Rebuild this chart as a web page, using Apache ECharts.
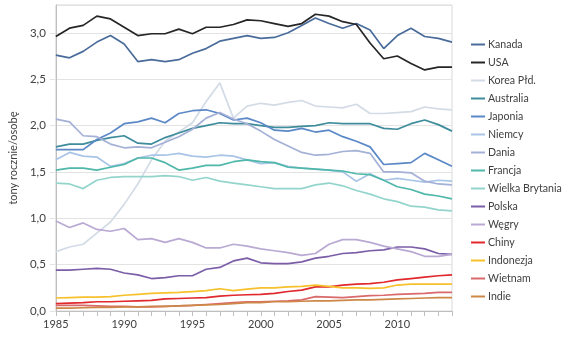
<!DOCTYPE html>
<html>
<head>
<meta charset="utf-8">
<script src="https://cdn.jsdelivr.net/npm/echarts@6/dist/echarts.min.js"></script>
<style>html,body{margin:0;padding:0;background:#fff}#c{width:570px;height:340px}</style>
</head>
<body>
<div id="c"></div>
<script>
const years = ['1985','1986','1987','1988','1989','1990','1991','1992','1993','1994','1995','1996','1997','1998','1999','2000','2001','2002','2003','2004','2005','2006','2007','2008','2009','2010','2011','2012','2013','2014'];
const seriesNames = ['Kanada','USA','Korea Płd.','Australia','Japonia','Niemcy','Dania','Francja','Wielka Brytania','Polska','Węgry','Chiny','Indonezja','Wietnam','Indie'];
const kanada = [2.76,2.73,2.80,2.90,2.97,2.88,2.69,2.71,2.69,2.71,2.78,2.83,2.91,2.94,2.97,2.94,2.95,3.00,3.08,3.16,3.10,3.05,3.10,3.03,2.83,2.97,3.05,2.96,2.94,2.90];
const usa = [2.96,3.05,3.08,3.18,3.15,3.06,2.97,2.99,2.99,3.04,2.99,3.06,3.06,3.09,3.14,3.13,3.10,3.07,3.10,3.20,3.18,3.12,3.09,2.89,2.72,2.75,2.67,2.60,2.63,2.63];
const korea = [0.64,0.69,0.72,0.84,0.96,1.15,1.37,1.63,1.83,1.93,2.03,2.26,2.46,2.08,2.21,2.24,2.22,2.25,2.27,2.21,2.20,2.19,2.23,2.13,2.13,2.14,2.15,2.20,2.18,2.17];
const australia = [1.77,1.80,1.80,1.84,1.87,1.89,1.81,1.80,1.87,1.92,1.97,2.00,2.03,2.02,2.02,2.00,1.98,1.98,1.99,2.00,2.03,2.02,2.02,2.02,1.97,1.96,2.02,2.06,2.01,1.94];
const japonia = [1.74,1.74,1.74,1.85,1.92,2.02,2.04,2.08,2.03,2.13,2.16,2.17,2.13,2.06,2.08,2.03,1.95,1.94,1.97,1.93,1.95,1.88,1.83,1.77,1.58,1.59,1.60,1.70,1.63,1.56];
const niemcy = [1.63,1.71,1.67,1.66,1.56,1.59,1.65,1.68,1.68,1.70,1.67,1.66,1.68,1.67,1.63,1.59,1.60,1.56,1.54,1.53,1.52,1.50,1.40,1.48,1.41,1.43,1.41,1.39,1.41,1.40];
const dania = [2.07,2.04,1.89,1.88,1.80,1.76,1.77,1.76,1.82,1.88,1.96,2.08,2.14,2.07,2.02,1.94,1.85,1.78,1.71,1.68,1.69,1.72,1.73,1.70,1.50,1.50,1.49,1.40,1.37,1.36];
const francja = [1.52,1.54,1.54,1.52,1.55,1.58,1.65,1.65,1.60,1.52,1.54,1.57,1.57,1.61,1.63,1.61,1.60,1.55,1.54,1.53,1.52,1.51,1.48,1.47,1.41,1.34,1.31,1.26,1.24,1.21];
const wielkaBrytania = [1.38,1.37,1.32,1.41,1.44,1.45,1.45,1.45,1.46,1.45,1.41,1.44,1.40,1.38,1.36,1.34,1.32,1.32,1.32,1.36,1.38,1.35,1.30,1.26,1.21,1.18,1.13,1.12,1.09,1.08];
const polska = [0.44,0.44,0.45,0.46,0.45,0.41,0.39,0.35,0.36,0.38,0.38,0.45,0.47,0.54,0.57,0.52,0.51,0.51,0.53,0.57,0.59,0.62,0.63,0.65,0.66,0.69,0.69,0.67,0.62,0.61];
const wegry = [0.97,0.90,0.95,0.88,0.86,0.89,0.77,0.78,0.74,0.78,0.74,0.68,0.68,0.72,0.70,0.67,0.65,0.63,0.60,0.62,0.72,0.77,0.77,0.74,0.70,0.67,0.64,0.59,0.59,0.61];
const chiny = [0.08,0.085,0.09,0.10,0.10,0.105,0.11,0.115,0.13,0.135,0.14,0.145,0.16,0.17,0.175,0.18,0.19,0.21,0.225,0.26,0.26,0.28,0.29,0.295,0.31,0.335,0.35,0.365,0.38,0.39];
const indonezja = [0.14,0.145,0.15,0.15,0.155,0.17,0.18,0.19,0.195,0.20,0.21,0.22,0.24,0.22,0.235,0.25,0.25,0.26,0.265,0.28,0.265,0.25,0.25,0.245,0.25,0.28,0.29,0.29,0.29,0.29];
const wietnam = [0.06,0.06,0.06,0.055,0.05,0.05,0.045,0.045,0.05,0.055,0.06,0.07,0.08,0.09,0.10,0.10,0.105,0.11,0.12,0.155,0.15,0.145,0.155,0.165,0.17,0.18,0.185,0.19,0.20,0.20];
const indie = [0.03,0.03,0.035,0.04,0.04,0.045,0.045,0.05,0.05,0.055,0.06,0.065,0.07,0.08,0.09,0.09,0.10,0.10,0.105,0.11,0.11,0.115,0.12,0.12,0.125,0.13,0.135,0.14,0.145,0.145];
const allValues = [kanada,usa,korea,australia,japonia,niemcy,dania,francja,wielkaBrytania,polska,wegry,chiny,indonezja,wietnam,indie];
const colors = ['#4a6c9b','#262626','#d3dbe6','#3e8c9c','#5b88c6','#a8c4e6','#a4b0d6','#4fb8aa','#93d5cc','#7b5ea7','#b9a9d3','#e0282d','#f7c12c','#d9696a','#cd8848'];

const font = 'Lato, "Open Sans", sans-serif';
const chart = echarts.init(document.getElementById('c'), null, {renderer:'canvas'});
chart.setOption({
  animation: false,
  color: colors,
  textStyle: {fontFamily: font},
  grid: {left: 51, right: 118, top: 5, bottom: 29, show: true, borderColor: '#d9d9d9', borderWidth: 1},
  legend: {
    orient: 'vertical', left: 466, top: 34,
    icon: 'rect', itemWidth: 14, itemHeight: 2, itemGap: 7,
    textStyle: {fontFamily: font, fontSize: 10.6, color: '#404040', padding: [0,0,0,-2]},
    data: seriesNames
  },
  xAxis: {
    type: 'category', data: years, boundaryGap: false,
    axisLine: {lineStyle: {color: '#bfbfbf'}},
    axisTick: {show: true, interval: 0, length: 5, lineStyle: {color: '#bfbfbf'}},
    axisLabel: {interval: 4, color: '#404040', fontSize: 11, fontFamily: font, margin: 8},
    splitLine: {show: false}
  },
  yAxis: {
    type: 'value', min: 0, max: 3.3, interval: 0.5,
    name: 'tony rocznie/osobę', nameLocation: 'middle', nameGap: 36, nameRotate: 90,
    nameTextStyle: {color: '#404040', fontSize: 11, fontFamily: font},
    axisLine: {show: true, lineStyle: {color: '#bfbfbf'}},
    axisTick: {show: true, length: 6, lineStyle: {color: '#e3e3e3'}},
    axisLabel: {showMaxLabel: false, color: '#404040', fontSize: 11.5, fontFamily: font, margin: 10,
      formatter: v => v.toFixed(1).replace('.', ',')},
    splitLine: {lineStyle: {color: '#e3e3e3'}}
  },
  series: seriesNames.map((n, i) => ({
    name: n, type: 'line', data: allValues[i], symbol: 'none',
    lineStyle: {width: 1.7, color: colors[i]}, itemStyle: {color: colors[i]}
  }))
});
</script>
</body>
</html>
